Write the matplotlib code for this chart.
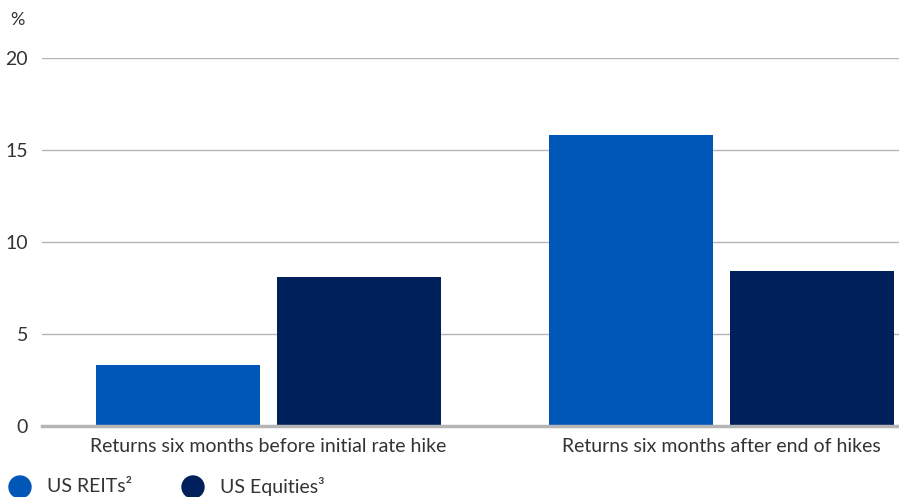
#!/usr/bin/env python3
import matplotlib.pyplot as plt
from matplotlib.patches import Ellipse
import numpy as np

categories = ["Returns six months before initial rate hike",
              "Returns six months after end of hikes"]
reits = [3.3, 15.8]
equities = [8.1, 8.4]
series_names = ["US REITs\u00b2", "US Equities\u00b3"]
yticks = [0, 5, 10, 15, 20]

plt.rcParams["font.family"] = ["Lato", "DejaVu Sans"]

c_reits = "#0057b8"
c_eq = "#00205b"
txt = "#333333"

fig = plt.figure(figsize=(8.99, 4.97), dpi=100)
ax = fig.add_axes([0.0467, 0.1429, 0.9533, 0.7404])

x = np.arange(len(categories))
w = 0.362
ax.bar(x - 0.2, reits, w, color=c_reits, zorder=3)
ax.bar(x + 0.2, equities, w, color=c_eq, zorder=3)

ax.set_xlim(-0.5, 1.392)
ax.set_ylim(0, 20)
ax.set_yticks(yticks)
ax.set_yticklabels([str(v) for v in yticks])
ax.set_xticks(x)
ax.set_xticklabels(categories)
ax.tick_params(axis="both", length=0, labelsize=14, colors=txt)
ax.tick_params(axis="y", pad=10)
ax.tick_params(axis="x", pad=9)
ax.grid(axis="y", color="#b5b5b5", linewidth=1, zorder=0)
for s in ["top", "right", "left"]:
    ax.spines[s].set_visible(False)
ax.spines["bottom"].set_color("#b5b5b5")
ax.spines["bottom"].set_linewidth(2.5)
ax.spines["bottom"].set_zorder(4)

fig.text(10 / 899, 1 - 20 / 497, "%", fontsize=13, color=txt, va="center", ha="left")

# legend
for cx, col, name in [(20, c_reits, series_names[0]), (193, c_eq, series_names[1])]:
    fig.patches.append(Ellipse((cx / 899, 1 - 487 / 497), 22 / 899, 22 / 497,
                               transform=fig.transFigure, color=col))
    fig.text((cx + 27) / 899, 1 - 487 / 497, name, fontsize=14, color=txt,
             va="center", ha="left")

fig.savefig("out.png", dpi=100)
